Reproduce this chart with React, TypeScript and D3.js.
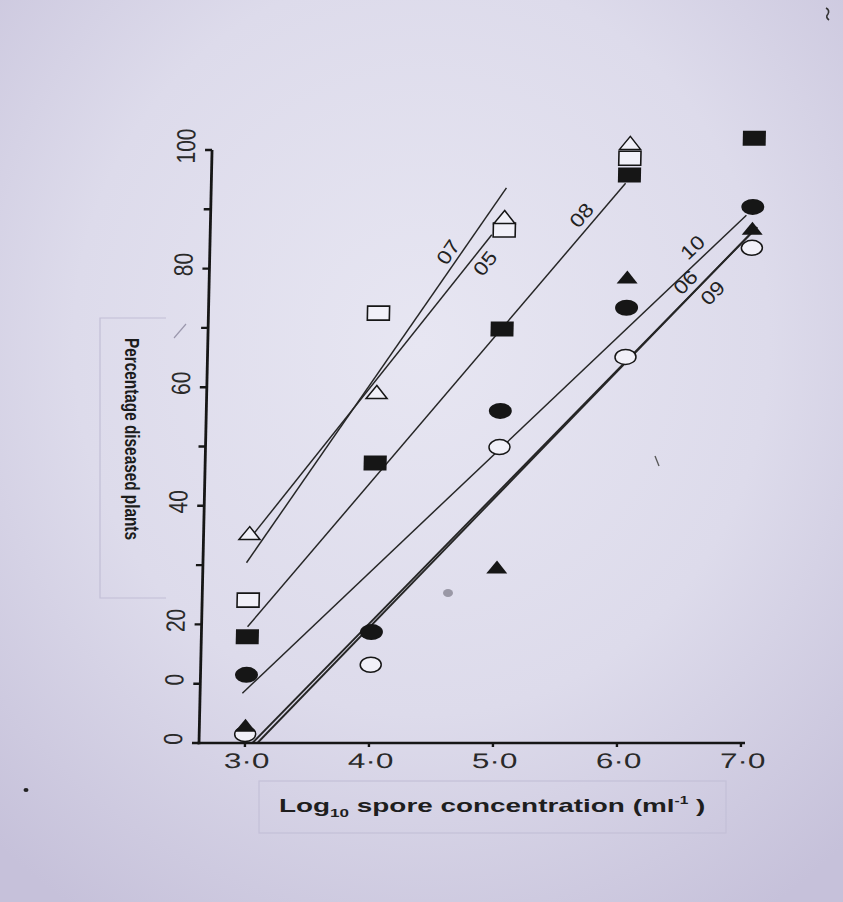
import React from 'react';
import * as d3 from 'd3';

// ---------- data ----------
const concentrations = [3, 4, 5, 6, 7];
const xTickLabels = ['3·0', '4·0', '5·0', '6·0', '7·0'];
const yTicks = [0, 10, 20, 30, 40, 50, 60, 70, 80, 90, 100];
const yTickLabels = ['0', '0', '20', '', '40', '', '60', '', '80', '', '100'];

// percentage diseased plants at each log10 spore concentration (null = not plotted)
const openTriangle = [35.4, 59.2, 88.7, 101.2, null];
const openSquare = [24.1, 72.5, 86.5, 98.6, null];
const filledSquare = [17.9, 47.2, 69.8, 95.8, 102.0];
const filledCircle = [11.5, 18.7, 56.0, 73.4, 90.4];
const filledTriangle = [3.0, null, 29.7, 78.6, 86.8];
const openCircle = [1.5, 13.2, 49.9, 65.1, 83.5];

// fitted lines
const lineNames = ['07', '05', '08', '10', '06', '09'];
const lineX0 = [2.98, 3.03, 3.0, 2.97, 3.06, 3.1];
const lineY0 = [30.4, 35.2, 19.6, 8.4, 0, 0];
const lineX1 = [5.01, 4.9, 5.97, 6.95, 7.04, 7.0];
const lineY1 = [93.6, 85.7, 94.4, 89.0, 87.0, 86.2];
const labelX = [4.55, 4.85, 5.62, 6.52, 6.47, 6.69];
const labelY = [82.8, 80.9, 89.0, 83.6, 77.7, 75.9];

// ---------- layout ----------
const W = 843;
const H = 902;
const AXIS_X = 199;
const BASE_Y = 743;
const SKEW_K = 0.022;

const x = d3.scaleLinear().domain([3, 7]).range([245, 741]);
const y = d3.scaleLinear().domain([0, 100]).range([BASE_Y, 150]);

const INK = '#161616';
const OPEN_FILL = '#f1f0f8';
const FONT = 'Liberation Sans, Arial, sans-serif';

function tri(cx: number, cy: number, w: number, h: number) {
  return `M${cx - w / 2},${cy + h / 2}L${cx},${cy - h / 2}L${cx + w / 2},${cy + h / 2}Z`;
}

export default function App() {
  const skewDeg = (-Math.atan(SKEW_K) * 180) / Math.PI;
  const lineGen = d3.line<[number, number]>().x((d) => x(d[0])).y((d) => y(d[1]));

  const markers: JSX.Element[] = [];
  concentrations.forEach((c, i) => {
    const cx = x(c);
    const v1 = filledSquare[i];
    if (v1 != null)
      markers.push(<rect key={'fs' + i} x={cx - 11.5} y={y(v1) - 7.5} width={23} height={15} fill={INK} />);
    const v2 = openSquare[i];
    if (v2 != null)
      markers.push(
        <rect key={'os' + i} x={cx - 11} y={y(v2) - 7} width={22} height={14} fill={OPEN_FILL} stroke={INK} strokeWidth={1.6} />
      );
    const v3 = openTriangle[i];
    if (v3 != null)
      markers.push(<path key={'ot' + i} d={tri(cx, y(v3), 21, 13)} fill={OPEN_FILL} stroke={INK} strokeWidth={1.5} />);
    const v4 = filledCircle[i];
    if (v4 != null)
      markers.push(<ellipse key={'fc' + i} cx={cx} cy={y(v4)} rx={11.5} ry={8} fill={INK} />);
    const v6 = openCircle[i];
    if (v6 != null)
      markers.push(
        <ellipse key={'oc' + i} cx={cx} cy={y(v6)} rx={10.5} ry={7.5} fill={OPEN_FILL} stroke={INK} strokeWidth={1.5} />
      );
    const v5 = filledTriangle[i];
    if (v5 != null) markers.push(<path key={'ft' + i} d={tri(cx, y(v5), 21, 13)} fill={INK} />);
  });

  return (
    <div style={{ position: 'absolute', left: 0, top: 0 }}>
      <svg width={W} height={H} viewBox={`0 0 ${W} ${H}`} style={{ display: 'block' }}>
        <defs>
          <radialGradient id="bg" cx="50%" cy="38%" r="75%">
            <stop offset="0%" stopColor="#e7e6f2" />
            <stop offset="55%" stopColor="#dddbeb" />
            <stop offset="100%" stopColor="#c6c1da" />
          </radialGradient>
        </defs>
        <rect x={0} y={0} width={W} height={H} fill="url(#bg)" />

        {/* paper label boxes */}
        <path d="M166,318 L100,318 L100,598 L166,598" fill="none" stroke="#c2bed6" strokeWidth={1.2} />
        <rect x={259} y={781} width={467} height={52} fill="none" stroke="#c4c0d8" strokeWidth={1.2} />

        {/* dust specks on the slide */}
        <path d="M826,8 q4,2 2,6 q-3,3 1,6" fill="none" stroke="#333" strokeWidth={1.6} />
        <ellipse cx={26} cy={790} rx={2.5} ry={2} fill="#222" />
        <line x1={174} y1={338} x2={186} y2={324} stroke="#9b98ad" strokeWidth={1.2} />
        <ellipse cx={448} cy={593} rx={5} ry={4} fill="#9a98a6" />
        <line x1={655} y1={456} x2={659} y2={466} stroke="#555" strokeWidth={1.3} />

        <g transform={`translate(${BASE_Y * SKEW_K},0) skewX(${skewDeg})`}>
          {/* fitted lines */}
          {lineNames.map((n, i) => (
            <path
              key={'l' + n}
              d={lineGen([
                [lineX0[i], lineY0[i]],
                [lineX1[i], lineY1[i]],
              ]) as string}
              fill="none"
              stroke="#262626"
              strokeWidth={i >= 4 ? 1.9 : 1.5}
            />
          ))}

          {/* line labels */}
          {lineNames.map((n, i) => {
            const dx = x(lineX1[i]) - x(lineX0[i]);
            const dy = y(lineY1[i]) - y(lineY0[i]);
            const ang = (Math.atan2(dy, dx) * 180) / Math.PI;
            return (
              <text
                key={'t' + n}
                transform={`translate(${x(labelX[i])},${y(labelY[i])}) rotate(${ang}) scale(1.25,1.1)`}
                textAnchor="middle"
                dominantBaseline="central"
                fontFamily={FONT}
                fontSize={18}
                fill="#222"
              >
                {n}
              </text>
            );
          })}

          {markers}

          {/* y axis */}
          <line x1={AXIS_X} x2={AXIS_X} y1={y(100)} y2={BASE_Y + 1.2} stroke={INK} strokeWidth={2.8} />
          {yTicks.map((t, i) => (
            <g key={'yt' + t}>
              <line x1={AXIS_X - 7} x2={AXIS_X} y1={y(t)} y2={y(t)} stroke={INK} strokeWidth={2.4} />
              {yTickLabels[i] && (
                <text
                  transform={`translate(${AXIS_X - 17},${y(t) - 4}) scale(1.25,1) rotate(-90)`}
                  textAnchor="middle"
                  fontFamily={FONT}
                  fontSize={21}
                  fill="#2a2a2a"
                >
                  {yTickLabels[i]}
                </text>
              )}
            </g>
          ))}

          {/* x axis */}
          <line x1={AXIS_X - 1.4} x2={x(7) + 4} y1={BASE_Y} y2={BASE_Y} stroke={INK} strokeWidth={2.6} />
          {concentrations.map((c, i) => (
            <g key={'xt' + c}>
              <line x1={x(c)} x2={x(c)} y1={BASE_Y} y2={BASE_Y + 4} stroke={INK} strokeWidth={2.4} />
              <text
                transform={`translate(${x(c) + 2},${BASE_Y + 25}) scale(1.5,1)`}
                textAnchor="middle"
                fontFamily={FONT}
                fontSize={21}
                fill="#2a2a2a"
              >
                {xTickLabels[i]}
              </text>
            </g>
          ))}
        </g>

        {/* axis titles */}
        <text
          transform="translate(125,439) rotate(90) scale(1,1.25)"
          textAnchor="middle"
          fontFamily={FONT}
          fontWeight="bold"
          fontSize={16}
          textLength={202}
          lengthAdjust="spacingAndGlyphs"
          fill="#1c1c1c"
        >
          Percentage diseased plants
        </text>
        <text
          transform="translate(279,812) scale(1.55,1)"
          fontFamily={FONT}
          fontWeight="bold"
          fontSize={18}
          fill="#1e1e1e"
        >
          <tspan>Log</tspan>
          <tspan fontSize={11} dy={5}>10</tspan>
          <tspan dy={-5}>{'  spore concentration (ml'}</tspan>
          <tspan fontSize={10} dy={-8}>{'-1'}</tspan>
          <tspan dy={8}>{' )'}</tspan>
        </text>
      </svg>
    </div>
  );
}
